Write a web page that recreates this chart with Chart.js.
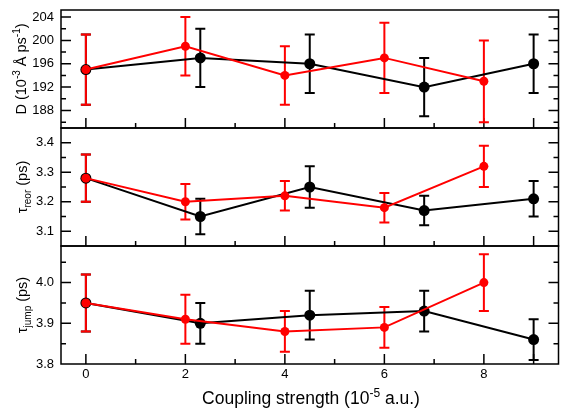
<!DOCTYPE html>
<html>
<head>
<meta charset="utf-8">
<script src="https://cdn.jsdelivr.net/npm/chart.js@4.4.1/dist/chart.umd.min.js"></script>
<style>
  html, body { margin: 0; padding: 0; background: #fff; overflow: hidden; }
  #wrap { width: 562px; height: 408px; overflow: hidden; }
</style>
</head>
<body>
<div id="wrap"><canvas id="coupling" width="564" height="408"></canvas></div>
<script>
const FONT = '"Liberation Sans", Arial, sans-serif';

// x positions (coupling strength, 10^-5 a.u.)
const xRed = [0, 2, 4, 6, 8];
const xBlack = [0, 2.3, 4.5, 6.8, 9];

// D panel
const dRed = [195, 199, 194, 197, 193];
const dRedErr = [6, 5, 5, 6, 7];
const dBlack = [195, 197, 196, 192, 196];
const dBlackErr = [6, 5, 5, 5, 5];

// tau reor panel
const rRed = [3.28, 3.20, 3.22, 3.18, 3.32];
const rRedErr = [0.08, 0.06, 0.05, 0.05, 0.07];
const rBlack = [3.28, 3.15, 3.25, 3.17, 3.21];
const rBlackErr = [0.08, 0.06, 0.07, 0.05, 0.06];

// tau jump panel
const jRed = [3.95, 3.91, 3.88, 3.89, 4.00];
const jRedErr = [0.07, 0.06, 0.05, 0.05, 0.07];
const jBlack = [3.95, 3.90, 3.92, 3.93, 3.86];
const jBlackErr = [0.07, 0.05, 0.06, 0.05, 0.05];

// ticks
const xTicks = [0, 2, 4, 6, 8];
const xLongMarks = [0, 2, 4, 6, 8, 9];
const xShortMarks = [1, 3, 5, 7];
const dTicks = [188, 192, 196, 200, 204];
const dMinor = [186, 190, 194, 198, 202];
const rTicks = [3.1, 3.2, 3.3, 3.4];
const rMinor = [3.15, 3.25, 3.35];
const jTicks = [3.8, 3.9, 4.0];
const jMinor = [3.85, 3.95, 4.05];

const pts = (xs, ys) => xs.map((x, i) => ({x: x, y: ys[i]}));

function series(xs, ys, errs, axis, red) {
  return {
    data: pts(xs, ys),
    errors: errs,
    yAxisID: axis,
    borderColor: red ? '#ff0000' : '#000000',
    backgroundColor: red ? '#ff0000' : '#000000',
    pointBackgroundColor: red ? '#ff0000' : '#000000',
    pointBorderWidth: 0,
    pointRadius: red ? 4.5 : 5.5,
    borderWidth: 2,
    tension: 0,
    order: red ? 1 : 2
  };
}

function yAxis(min, max, ticks, digits, weight) {
  return {
    type: 'linear', position: 'left', stack: 'panels', stackWeight: 1, weight: weight,
    min: min, max: max, offset: false,
    grid: { display: false, drawTicks: false },
    border: { display: false },
    afterBuildTicks: s => { s.ticks = ticks.map(v => ({ value: v })); },
    afterFit: s => { s.width = 61; s.paddingTop = 0; s.paddingBottom = 0; },
    ticks: {
      autoSkip: false, padding: 7, color: '#000',
      font: { family: FONT, size: 13 },
      callback: v => Number(v).toFixed(digits)
    }
  };
}

const minorMarks = { yD: [dTicks, dMinor], yR: [rTicks, rMinor], yJ: [jTicks, jMinor] };

// frame + inward ticks
const frame = {
  id: 'frame',
  beforeDatasetsDraw(chart) {
    const ctx = chart.ctx, xs = chart.scales.x;
    const L = chart.chartArea.left, R = chart.chartArea.right;
    ctx.save();
    ctx.strokeStyle = '#000';
    ctx.lineWidth = 1.5;
    ['yD', 'yR', 'yJ'].forEach(id => {
      const s = chart.scales[id];
      ctx.beginPath();
      ctx.rect(L, s.top, R - L, s.bottom - s.top);
      const [maj, min] = minorMarks[id];
      maj.forEach(v => {
        const y = s.getPixelForValue(v);
        ctx.moveTo(L, y); ctx.lineTo(L + 10, y);
        ctx.moveTo(R, y); ctx.lineTo(R - 10, y);
      });
      min.forEach(v => {
        const y = s.getPixelForValue(v);
        ctx.moveTo(L, y); ctx.lineTo(L + 5, y);
        ctx.moveTo(R, y); ctx.lineTo(R - 5, y);
      });
      xLongMarks.forEach(v => {
        const x = xs.getPixelForValue(v);
        ctx.moveTo(x, s.bottom); ctx.lineTo(x, s.bottom - 10);
      });
      xShortMarks.forEach(v => {
        const x = xs.getPixelForValue(v);
        ctx.moveTo(x, s.bottom); ctx.lineTo(x, s.bottom - 5);
      });
      ctx.stroke();
    });
    ctx.restore();
  }
};

const errorBars = {
  id: 'errorBars',
  beforeDatasetsDraw(chart) {
    const ctx = chart.ctx;
    const idx = chart.data.datasets.map((d, i) => i).sort((a, b) => chart.data.datasets[b].order - chart.data.datasets[a].order);
    idx.forEach(i => {
      const ds = chart.data.datasets[i];
      const meta = chart.getDatasetMeta(i);
      const ys = chart.scales[ds.yAxisID];
      ctx.save();
      ctx.strokeStyle = ds.borderColor;
      ctx.lineWidth = 2;
      ctx.beginPath();
      meta.data.forEach((p, k) => {
        const v = ds.data[k].y, e = ds.errors[k];
        const top = ys.getPixelForValue(v + e), bot = ys.getPixelForValue(v - e);
        ctx.moveTo(p.x, top); ctx.lineTo(p.x, bot);
        ctx.moveTo(p.x - 5, top); ctx.lineTo(p.x + 5, top);
        ctx.moveTo(p.x - 5, bot); ctx.lineTo(p.x + 5, bot);
      });
      ctx.stroke();
      ctx.restore();
    });
  }
};

// text with super/subscripts: parts = [text, size, shift]
function drawRich(ctx, parts, cx, base, rotated) {
  ctx.save();
  let w = 0;
  parts.forEach(p => { ctx.font = p[1] + 'px ' + FONT; w += ctx.measureText(p[0]).width; });
  ctx.translate(rotated ? base : cx, rotated ? cx : base);
  if (rotated) ctx.rotate(-Math.PI / 2);
  ctx.fillStyle = '#000';
  ctx.textBaseline = 'alphabetic';
  ctx.textAlign = 'left';
  let x = -w / 2;
  parts.forEach(p => {
    ctx.font = p[1] + 'px ' + FONT;
    ctx.fillText(p[0], x, p[2]);
    x += ctx.measureText(p[0]).width;
  });
  ctx.restore();
}

const titles = {
  id: 'titles',
  afterDraw(chart) {
    const ctx = chart.ctx, a = chart.chartArea, sc = chart.scales;
    const mid = id => (sc[id].top + sc[id].bottom) / 2;
    drawRich(ctx, [['Coupling strength (10', 17.5, 0], ['-5', 12, -7.5], [' a.u.)', 17.5, 0]],
      (a.left + 561) / 2, 404, false);
    drawRich(ctx, [['D (10', 14.5, 0], ['-3', 10, -6], [' \u00C5 ps', 14.5, 0], ['-1', 10, -6], [')', 14.5, 0]],
      mid('yD'), 26, true);
    drawRich(ctx, [['\u03C4', 14.5, 0], ['reor', 10, 3.5], [' (ps)', 14.5, 0]], mid('yR'), 27, true);
    drawRich(ctx, [['\u03C4', 14.5, 0], ['jump', 10, 3.5], [' (ps)', 14.5, 0]], mid('yJ'), 27, true);
  }
};

new Chart(document.getElementById('coupling').getContext('2d'), {
  type: 'line',
  data: {
    datasets: [
      series(xRed, dRed, dRedErr, 'yD', true),
      series(xRed, rRed, rRedErr, 'yR', true),
      series(xRed, jRed, jRedErr, 'yJ', true),
      series(xBlack, dBlack, dBlackErr, 'yD', false),
      series(xBlack, rBlack, rBlackErr, 'yR', false),
      series(xBlack, jBlack, jBlackErr, 'yJ', false)
    ]
  },
  options: {
    responsive: false,
    animation: false,
    layout: { padding: { top: 10, right: 1, left: 0, bottom: 0 } },
    plugins: { legend: { display: false }, tooltip: { enabled: false } },
    scales: {
      x: {
        type: 'linear', position: 'bottom', min: -0.5, max: 9.5,
        grid: { display: false, drawTicks: false },
        border: { display: false },
        afterBuildTicks: s => { s.ticks = xTicks.map(v => ({ value: v })); },
        afterFit: s => { s.height = 44; s.paddingLeft = 0; s.paddingRight = 0; },
        ticks: { autoSkip: false, maxRotation: 0, padding: 3, color: '#000', font: { family: FONT, size: 13 } }
      },
      yD: yAxis(185, 205.2, dTicks, 0, 3),
      yR: yAxis(3.05, 3.45, rTicks, 1, 2),
      yJ: yAxis(3.8, 4.09, jTicks, 1, 1)
    }
  },
  plugins: [frame, errorBars, titles]
});
</script>
</body>
</html>
